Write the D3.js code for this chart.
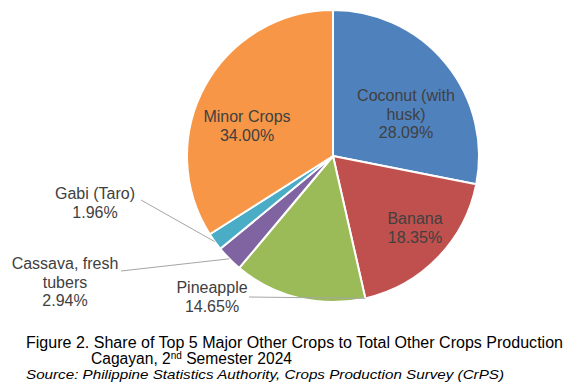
<!DOCTYPE html>
<html>
<head>
<meta charset="utf-8">
<script src="https://cdn.jsdelivr.net/npm/d3@7"></script>
<style>
  body { margin: 0; background: #fff; }
  text { font-family: "Liberation Sans", Arial, sans-serif; fill: #404040; }
</style>
</head>
<body>
<svg id="chart" width="581" height="386"></svg>
<script>
// data
const categories = ["Coconut (with husk)", "Banana", "Pineapple", "Cassava, fresh tubers", "Gabi (Taro)", "Minor Crops"];
const shares = [28.09, 18.35, 14.65, 2.94, 1.96, 34.00];
const labelLines = [["Coconut (with", "husk)"], ["Banana"], ["Pineapple"], ["Cassava, fresh", "tubers"], ["Gabi (Taro)"], ["Minor Crops"]];
const colors = ["#4F81BD", "#C0504D", "#9BBB59", "#8064A2", "#4BACC6", "#F79646"];

// layout
const cx = 333, cy = 156, r = 146;
const lineH = 18.5;
// label centre relative to pie centre, and whether it gets a leader line
const labelPos = [
  {dx: 73, dy: -42},
  {dx: 82, dy: 72},
  {dx: -121, dy: 141, leader: {fromX: -84, fromY: 141, at: 0}},
  {dx: -268, dy: 126, leader: {fromX: -212, fromY: 115, at: 0.5}},
  {dx: -238, dy: 47, leader: {fromX: -192, fromY: 44, at: 0.5}},
  {dx: -86, dy: -30}
];

const svg = d3.select("#chart");
const g = svg.append("g").attr("transform", "translate(" + cx + "," + cy + ")");

const pie = d3.pie().sort(null).value(d => d);
const arcs = pie(shares);
const arc = d3.arc().innerRadius(0).outerRadius(r);

g.selectAll(".slice")
  .data(arcs)
  .join("path")
  .attr("class", "slice")
  .attr("d", arc)
  .attr("fill", (d, i) => colors[i])
  .attr("stroke", "#fff")
  .attr("stroke-width", 2)
  .attr("stroke-linejoin", "round");

// leader lines
arcs.forEach((d, i) => {
  const p = labelPos[i];
  if (!p.leader) return;
  const a = d.startAngle + (d.endAngle - d.startAngle) * p.leader.at;
  const ex = r * Math.sin(a), ey = -r * Math.cos(a);
  g.append("polyline")
    .attr("points", p.leader.fromX + "," + p.leader.fromY + " " + ex + "," + ey)
    .attr("fill", "none")
    .attr("stroke", "#A6A6A6")
    .attr("stroke-width", 1);
});

// slice labels
arcs.forEach((d, i) => {
  const p = labelPos[i];
  const lines = labelLines[i].concat([shares[i].toFixed(2) + "%"]);
  const t = g.append("text")
    .attr("text-anchor", "middle")
    .attr("font-size", 16);
  const y0 = p.dy - (lines.length - 1) * lineH / 2;
  lines.forEach((s, k) => {
    t.append("tspan")
      .attr("x", p.dx)
      .attr("y", y0 + k * lineH)
      .attr("dy", "0.35em")
      .text(s);
  });
});

// caption
const cap = svg.append("g");
cap.append("text")
  .attr("x", 26).attr("y", 348)
  .attr("font-size", 15.6)
  .attr("textLength", 537)
  .attr("lengthAdjust", "spacingAndGlyphs")
  .style("fill", "#000")
  .text("Figure 2. Share of Top 5 Major Other Crops to Total Other Crops Production");
const l2 = cap.append("text")
  .attr("x", 91).attr("y", 363.5)
  .attr("font-size", 15.6)
  .style("fill", "#000");
l2.append("tspan").text("Cagayan, 2");
l2.append("tspan").attr("font-size", 10).attr("dy", -5).text("nd");
l2.append("tspan").attr("dy", 5).text(" Semester 2024");
cap.append("text")
  .attr("x", 26).attr("y", 379)
  .attr("font-size", 13.5)
  .attr("font-style", "italic")
  .attr("textLength", 478)
  .attr("lengthAdjust", "spacingAndGlyphs")
  .style("fill", "#000")
  .text("Source: Philippine Statistics Authority, Crops Production Survey (CrPS)");
</script>
</body>
</html>
